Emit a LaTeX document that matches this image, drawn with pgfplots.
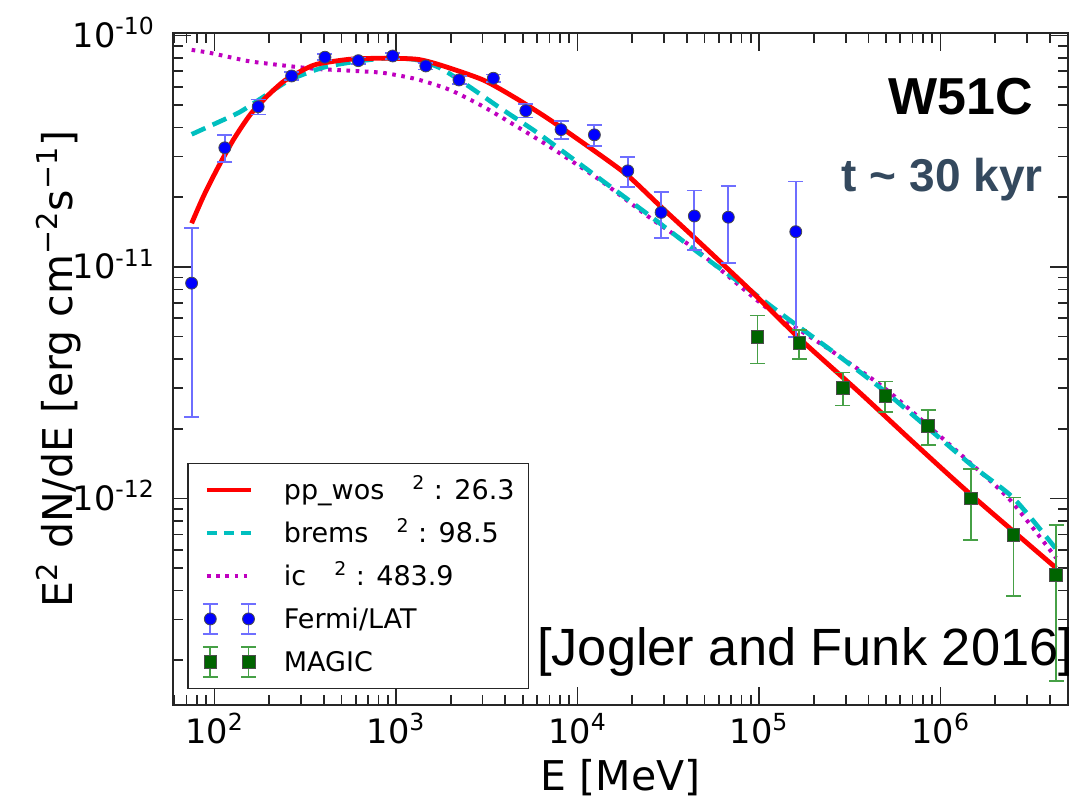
\documentclass[border=0pt]{standalone}
\usepackage{pgfplots}
\usepackage{pgfplotstable}
\pgfplotsset{compat=1.18}
\usepackage{fontspec}
\setmainfont{DejaVu Sans}
\newfontfamily\arialfont{Liberation Sans}
\definecolor{mred}{RGB}{255,0,0}
\definecolor{mcyan}{RGB}{0,191,191}
\definecolor{mmag}{RGB}{191,0,191}
\definecolor{fermiblue}{RGB}{0,0,255}
\definecolor{fermibar}{RGB}{110,110,255}
\definecolor{magicgreen}{RGB}{0,100,0}
\definecolor{magicbar}{RGB}{70,160,70}
\definecolor{slate}{RGB}{52,73,94}

\pgfplotstableread{
x y e
74.8 8.51e-12 6.27e-12
114 3.27e-11 0.44e-11
174 4.92e-11 0.37e-11
266 6.68e-11 0.27e-11
406 8.05e-11 0.25e-11
620 7.78e-11 0.25e-11
959 8.15e-11 0.25e-11
1459 7.38e-11 0.25e-11
2223 6.42e-11 0.25e-11
3436 6.53e-11 0.25e-11
5188 4.73e-11 0.31e-11
8110 3.92e-11 0.35e-11
12380 3.72e-11 0.39e-11
18910 2.60e-11 0.39e-11
28860 1.72e-11 0.39e-11
44000 1.66e-11 0.48e-11
67700 1.64e-11 0.60e-11
159300 1.42e-11 0.92e-11
}\fermi

\pgfplotstableread{
x y e
97900 5.00e-12 1.17e-12
166700 4.68e-12 0.67e-12
289000 3.01e-12 0.49e-12
496000 2.78e-12 0.42e-12
854000 2.06e-12 0.36e-12
1466000 1.00e-12 0.34e-12
2520000 6.95e-13 3.15e-13
4330000 4.67e-13 3.04e-13
}\magic

\pgfplotstableread{
x y
74.86 1.544e-11
86.76 2.012e-11
102.8 2.624e-11
126.9 3.537e-11
156.9 4.536e-11
193.9 5.440e-11
239.4 6.316e-11
295.9 6.976e-11
365.7 7.508e-11
557.9 7.892e-11
851.1 7.970e-11
1300 7.892e-11
1747 7.456e-11
3016 6.424e-11
4642 5.317e-11
7056 4.315e-11
12170 3.201e-11
18740 2.497e-11
28480 1.834e-11
47310 1.270e-11
89200 7.955e-12
168200 4.887e-12
360200 2.855e-12
723500 1.719e-12
1454000 1.046e-12
4328000 5.01e-13
}\ppwos

\pgfplotstableread{
x y
74.86 3.74e-11
102.8 4.188e-11
138.2 4.671e-11
185.8 5.424e-11
260.6 6.424e-11
397.6 7.272e-11
607.5 7.722e-11
926.6 7.995e-11
1300 7.838e-11
1747 7.235e-11
2452 6.112e-11
3741 4.862e-11
5708 3.906e-11
7056 3.467e-11
13300 2.399e-11
25080 1.661e-11
47310 1.138e-11
78600 8.531e-12
142100 6.022e-12
256700 4.293e-12
505400 2.855e-12
1454000 1.409e-12
2518000 1.005e-12
4330000 6.05e-13
}\brems

\pgfplotstableread{
x y
74.86 8.660e-11
94.45 8.404e-11
126.9 7.995e-11
156.9 7.722e-11
238.5 7.419e-11
365.7 7.164e-11
557.9 7.043e-11
851.1 6.887e-11
1300 6.469e-11
1984 5.816e-11
3027 4.925e-11
4642 4.036e-11
7056 3.299e-11
13300 2.37e-11
25080 1.63e-11
47310 1.15e-11
110300 6.651e-12
246100 4.379e-12
505400 2.942e-12
1395000 1.467e-12
2415000 9.85e-13
4330000 5.534e-13
}\icdata

\begin{document}
\begin{tikzpicture}
\begin{axis}[
  at={(0pt,0pt)}, anchor=south west,
  scale only axis, width=447.4pt, height=336.2pt,
  xmode=log, ymode=log, log basis x=10, log basis y=10,
  xmin=59.3, xmax=5.04e6, ymin=1.282e-13, ymax=1.028e-10,
  xtick={1e2,1e3,1e4,1e5,1e6},
  ytick={1e-12,1e-11,1e-10},
  minor xtick={60,70,80,90,200,300,400,500,600,700,800,900,2000,3000,4000,5000,6000,7000,8000,9000,20000,30000,40000,50000,60000,70000,80000,90000,2e5,3e5,4e5,5e5,6e5,7e5,8e5,9e5,2e6,3e6,4e6,5e6},
  minor ytick={2e-13,3e-13,4e-13,5e-13,6e-13,7e-13,8e-13,9e-13,2e-12,3e-12,4e-12,5e-12,6e-12,7e-12,8e-12,9e-12,2e-11,3e-11,4e-11,5e-11,6e-11,7e-11,8e-11,9e-11},
  tick align=inside,
  major tick length=9pt, minor tick length=5pt,
  tick style={black!85, line width=0.85pt},
  minor tick style={black!85, line width=0.85pt},
  axis line style={black!85, line width=0.9pt},
  tick label style={font=\fontsize{16.8}{20}\selectfont},
  xticklabel={10\textsuperscript{\pgfmathprintnumber[fixed,precision=0,assume math mode=true]{\tick}}},
  yticklabel={10\textsuperscript{\pgfmathprintnumber[fixed,precision=0,assume math mode=true]{\tick}}},
  xticklabel style={anchor=base, yshift=-19pt, inner sep=0pt},
  yticklabel style={anchor=base east, xshift=-9pt, yshift=-6pt, inner sep=0pt},
  xlabel={E [MeV]},
  ylabel={E\textsuperscript{2} dN/dE [erg cm\textsuperscript{−2}s\textsuperscript{−1}]},
  label style={font=\fontsize{20.5}{24}\selectfont},
  x label style={at={(axis description cs:0.5,-0.1264)}, anchor=base},
  y label style={at={(axis description cs:-0.113,0.5)}, anchor=base},
  legend cell align=left,
  legend style={at={(axis description cs:0.01565,0.0238)}, anchor=south west,
    draw=black!85, line width=0.6pt, inner xsep=7pt, inner ysep=5.25pt,
    row sep=5.5pt, column sep=13.5pt,
    font=\fontsize{13.5}{16}\selectfont,
    cells={anchor=west},
    nodes={inner sep=0pt, text height=11.5pt, text depth=1.5pt}},
]
\addplot[mmag, line width=2pt, dash pattern=on 1.8pt off 2.8pt, smooth, tension=0.4, forget plot] table[x=x,y=y] {\icdata};
\addplot[mcyan, line width=2.3pt, dash pattern=on 7.5pt off 4pt, smooth, tension=0.4, forget plot] table[x=x,y=y] {\brems};
\addplot[mred, line width=2.4pt, smooth, tension=0.4, forget plot] table[x=x,y=y] {\ppwos};

\addplot[forget plot, only marks, mark=*, mark size=3pt,
  mark options={fill=fermiblue, draw=black!70, line width=0.4pt},
  error bars/.cd, y dir=both, y explicit,
  error bar style={fermibar, line width=0.9pt},
  error mark options={rotate=90, mark size=3.75pt, fermibar, line width=0.9pt}
  ] table[x=x, y=y, y error=e] {\fermi};
\addplot[forget plot, only marks, mark=square*, mark size=3.2pt,
  mark options={fill=magicgreen, draw=black!70, line width=0.4pt},
  error bars/.cd, y dir=both, y explicit,
  error bar style={magicbar, line width=0.9pt},
  error mark options={rotate=90, mark size=3.75pt, magicbar, line width=0.9pt}
  ] table[x=x, y=y, y error=e] {\magic};

\addlegendimage{legend image code/.code={\path[draw=none,fill=none] (-2pt,-8pt) rectangle (24pt,8pt); \draw[mred, line width=2.4pt] (0pt,0pt) -- (22pt,0pt);}}
\addlegendentry{pp\_wos\hspace{14pt}\textsuperscript{2} : 26.3}
\addlegendimage{legend image code/.code={\path[draw=none,fill=none] (-2pt,-8pt) rectangle (24pt,8pt); \draw[mcyan, line width=2.3pt, dash pattern=on 5pt off 3.5pt] (0pt,0pt) -- (22pt,0pt);}}
\addlegendentry{brems\hspace{14pt}\textsuperscript{2} : 98.5}
\addlegendimage{legend image code/.code={\path[draw=none,fill=none] (-2pt,-8pt) rectangle (24pt,8pt); \draw[mmag, line width=2pt, dash pattern=on 1.8pt off 2.8pt] (0pt,0pt) -- (22pt,0pt);}}
\addlegendentry{ic\hspace{14pt}\textsuperscript{2} : 483.9}
\addlegendimage{legend image code/.code={\path[draw=none,fill=none] (-2pt,-8pt) rectangle (24pt,8pt);
  \foreach \xx in {1.7,20.8} {
    \draw[fermibar, line width=0.9pt] (\xx pt,-7.5pt) -- (\xx pt,7.5pt);
    \draw[fermibar, line width=0.9pt] (\xx pt-3.75pt,-7.5pt) -- (\xx pt+3.75pt,-7.5pt);
    \draw[fermibar, line width=0.9pt] (\xx pt-3.75pt,7.5pt) -- (\xx pt+3.75pt,7.5pt);
    \filldraw[fill=fermiblue, draw=black!70, line width=0.4pt] (\xx pt,0pt) circle (3pt);
  }}}
\addlegendentry{Fermi/LAT}
\addlegendimage{legend image code/.code={\path[draw=none,fill=none] (-2pt,-8pt) rectangle (24pt,8pt);
  \foreach \xx in {1.7,20.8} {
    \draw[magicbar, line width=0.9pt] (\xx pt,-7.5pt) -- (\xx pt,7.5pt);
    \draw[magicbar, line width=0.9pt] (\xx pt-3.75pt,-7.5pt) -- (\xx pt+3.75pt,-7.5pt);
    \draw[magicbar, line width=0.9pt] (\xx pt-3.75pt,7.5pt) -- (\xx pt+3.75pt,7.5pt);
    \filldraw[fill=magicgreen, draw=black!70, line width=0.4pt] (\xx pt-3.2pt,-3.2pt) rectangle (\xx pt+3.2pt,3.2pt);
  }}}
\addlegendentry{MAGIC}
\end{axis}
\node[anchor=base west, inner sep=0pt, font=\arialfont\fontsize{26.2}{30}\selectfont] at (181.7pt,20pt) {[Jogler and Funk 2016]};
\node[anchor=base east, inner sep=0pt, font=\arialfont\bfseries\fontsize{26}{30}\selectfont] at (429.85pt,295pt) {W51C};
\node[anchor=base east, inner sep=0pt, text=slate, font=\arialfont\bfseries\fontsize{23}{27}\selectfont] at (434.85pt,256.65pt) {t \textasciitilde{} 30 kyr};
\pgfresetboundingbox
\path (-86.65pt,-46pt) rectangle (450.35pt,352.5pt);
\end{tikzpicture}
\end{document}
